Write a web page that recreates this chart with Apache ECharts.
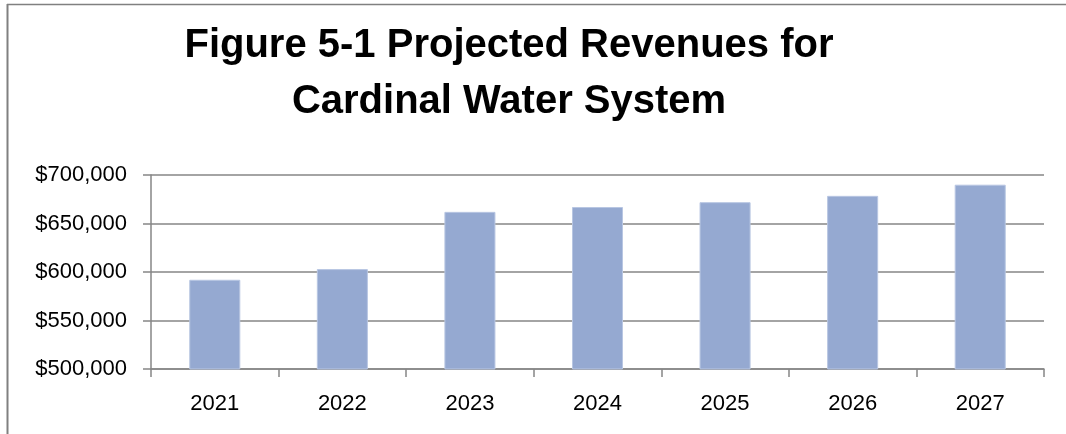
<!DOCTYPE html>
<html>
<head>
<meta charset="utf-8">
<script src="https://cdn.jsdelivr.net/npm/echarts@6/dist/echarts.min.js"></script>
<style>
html,body{margin:0;padding:0;background:#fff;}
#chart{width:1066px;height:434px;}
</style>
</head>
<body>
<div id="chart"></div>
<script>
const titleLines = ['Figure 5-1 Projected Revenues for', 'Cardinal Water System'];
const categories = ['2021', '2022', '2023', '2024', '2025', '2026', '2027'];
const revenues = [592000, 603000, 662000, 667000, 672000, 678500, 690000];
const yMin = 500000, yMax = 700000, yStep = 50000;

const chart = echarts.init(document.getElementById('chart'), null, {renderer: 'canvas'});
const labelFont = 'Liberation Sans';
chart.setOption({
  animation: false,
  backgroundColor: '#ffffff',
  graphic: [
    {type: 'line', shape: {x1: 7.5, y1: 4, x2: 7.5, y2: 434}, style: {stroke: '#808080', lineWidth: 2}},
    {type: 'line', shape: {x1: 7, y1: 4.5, x2: 1066, y2: 4.5}, style: {stroke: '#808080', lineWidth: 1.5}},
    {type: 'text', x: 509, y: 26, style: {text: titleLines[0], font: 'bold 40px "Liberation Sans"', fill: '#000', align: 'center', verticalAlign: 'top'}},
    {type: 'text', x: 509, y: 82, style: {text: titleLines[1], font: 'bold 40px "Liberation Sans"', fill: '#000', align: 'center', verticalAlign: 'top'}}
  ],
  grid: {left: 151, right: 22, top: 175, bottom: 65},
  xAxis: {
    type: 'category',
    data: categories,
    boundaryGap: true,
    axisLine: {lineStyle: {color: '#868686', width: 1.5}},
    axisTick: {show: true, length: 8, alignWithLabel: false, lineStyle: {color: '#868686', width: 1.5}},
    axisLabel: {color: '#000', fontSize: 22, fontFamily: labelFont, margin: 24}
  },
  yAxis: {
    type: 'value',
    min: yMin, max: yMax, interval: yStep,
    axisLine: {show: true, lineStyle: {color: '#868686', width: 1.5}},
    axisTick: {show: true, length: 8, lineStyle: {color: '#868686', width: 1.5}},
    splitLine: {show: true, lineStyle: {color: '#868686', width: 1.5}},
    axisLabel: {color: '#000', fontSize: 22, fontFamily: labelFont, margin: 24,
      formatter: v => '$' + v.toLocaleString('en-US')}
  },
  series: [{
    type: 'bar',
    data: revenues,
    barWidth: '40%',
    itemStyle: {color: '#95A9D1', borderColor: '#B8C6E2', borderWidth: 1}
  }]
});
</script>
</body>
</html>
